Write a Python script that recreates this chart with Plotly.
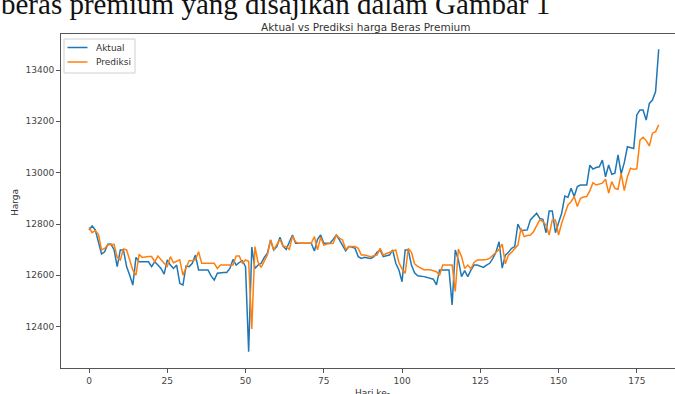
import plotly.graph_objects as go

# Daily premium rice price: actual vs model prediction
hari = list(range(183))

aktual = [
    12777, 12792, 12777, 12730, 12683, 12692, 12721, 12722, 12700, 12634,
    12699, 12699, 12634, 12600, 12562, 12670, 12653, 12653, 12653, 12653,
    12634, 12653, 12640, 12627, 12605, 12660, 12640, 12627, 12640, 12569,
    12562, 12636, 12634, 12647, 12679, 12621, 12621, 12621, 12621, 12598,
    12582, 12608, 12610, 12611, 12611, 12627, 12662, 12640, 12650, 12657,
    12634, 12302, 12710, 12627, 12640, 12647, 12670, 12686, 12738, 12699,
    12712, 12748, 12714, 12701, 12730, 12757, 12725, 12725, 12725, 12725,
    12725, 12725, 12695, 12740, 12757, 12725, 12725, 12725, 12740, 12757,
    12738, 12716, 12695, 12712, 12710, 12705, 12673, 12666, 12670, 12668,
    12666, 12673, 12690, 12699, 12673, 12676, 12679, 12699, 12647, 12621,
    12575, 12699, 12699, 12640, 12610, 12598, 12597, 12595, 12592, 12589,
    12585, 12563, 12621, 12621, 12621, 12621, 12485, 12699, 12660, 12595,
    12618, 12595, 12620, 12640, 12640, 12635, 12631, 12640, 12647, 12666,
    12690, 12731, 12628, 12679, 12690, 12705, 12712, 12800, 12774, 12776,
    12777, 12816, 12830, 12842, 12822, 12818, 12766, 12851, 12851, 12766,
    12805, 12842, 12909, 12904, 12939, 12907, 12946, 12952, 12952, 12952,
    13029, 13014, 13020, 13023, 13049, 12984, 13030, 12994, 12998, 13069,
    12995, 13039, 13101, 13096, 13094, 13225, 13244, 13244, 13205, 13270,
    13283, 13316, 13481,
]

prediksi = [
    12787, 12766, 12774, 12760, 12699, 12705, 12718, 12721, 12721, 12670,
    12660, 12703, 12699, 12660, 12620, 12601, 12682, 12670, 12672, 12673,
    12673, 12653, 12675, 12660, 12647, 12635, 12673, 12649, 12655, 12660,
    12601, 12630, 12657, 12658, 12660, 12692, 12647, 12647, 12647, 12647,
    12647, 12627, 12640, 12640, 12640, 12640, 12640, 12675, 12675, 12647,
    12660, 12655, 12391, 12712, 12650, 12631, 12653, 12680, 12738, 12699,
    12720, 12740, 12712, 12712, 12701, 12753, 12730, 12725, 12725, 12725,
    12725, 12725, 12751, 12699, 12748, 12718, 12722, 12725, 12725, 12757,
    12745, 12738, 12701, 12712, 12712, 12712, 12705, 12679, 12679, 12676,
    12673, 12676, 12679, 12705, 12679, 12685, 12690, 12696, 12699, 12650,
    12625, 12608, 12705, 12690, 12645, 12635, 12627, 12622, 12622, 12622,
    12618, 12614, 12600, 12640, 12640, 12640, 12640, 12537, 12702, 12673,
    12627, 12640, 12625, 12650, 12660, 12660, 12660, 12662, 12666, 12679,
    12690, 12700, 12722, 12645, 12679, 12690, 12705, 12718, 12783, 12751,
    12755, 12757, 12770, 12795, 12816, 12809, 12796, 12757, 12816, 12816,
    12757, 12803, 12840, 12874, 12887, 12907, 12868, 12900, 12905, 12907,
    12930, 12961, 12952, 12955, 12959, 12975, 12920, 12965, 12939, 12935,
    12997, 12930, 12984, 13017, 13013, 13015, 13127, 13138, 13125, 13104,
    13154, 13160, 13186,
]

y_ticks = [12400, 12600, 12800, 13000, 13200, 13400]
x_ticks = [0, 25, 50, 75, 100, 125, 150, 175]

BLUE = "#1f77b4"
ORANGE = "#ff7f0e"
AXIS = "#555555"
FONT = "DejaVu Sans"

W, H = 675, 394
ML, MR, MT, MB = 61, 0, 34, 26


def px_x(X):
    return (X - ML) / (W - ML - MR)


def px_y(Y):
    return (H - MB - Y) / (H - MT - MB)


fig = go.Figure()
fig.add_trace(go.Scatter(x=hari, y=aktual, mode="lines", name="Aktual",
                         line=dict(color=BLUE, width=1.5)))
fig.add_trace(go.Scatter(x=hari, y=prediksi, mode="lines", name="Prediksi",
                         line=dict(color=ORANGE, width=1.5)))

fig.update_layout(
    width=W, height=H,
    margin=dict(l=ML, r=MR, t=MT, b=MB, pad=0),
    paper_bgcolor="white", plot_bgcolor="white",
    showlegend=False,
    font=dict(family=FONT, size=9, color="#333333"),
)

fig.update_xaxes(
    range=[-8.95, 187.2], tickvals=x_ticks, ticktext=[str(t) for t in x_ticks],
    showgrid=False, zeroline=False,
    showline=True, linecolor=AXIS, linewidth=1, mirror=True,
    ticks="outside", ticklen=4, tickcolor=AXIS, tickwidth=1,
    tickfont=dict(family=FONT, size=9, color="#444444"),
)
fig.update_yaxes(
    range=[12239, 13540.3], tickvals=y_ticks, ticktext=[str(t) for t in y_ticks],
    showgrid=False, zeroline=False,
    showline=True, linecolor=AXIS, linewidth=1, mirror=False,
    ticks="outside", ticklen=4, tickcolor=AXIS, tickwidth=1,
    tickfont=dict(family=FONT, size=9, color="#444444"),
)

# Legend box with sample lines
shapes = [
    dict(type="rect", xref="paper", yref="paper",
         x0=px_x(64), x1=px_x(135), y0=px_y(73), y1=px_y(39),
         line=dict(color="#d0d0d0", width=1), fillcolor="rgba(255,255,255,0.8)"),
]
for color, ypx in [(BLUE, 47.5), (ORANGE, 62)]:
    shapes.append(dict(type="line", xref="paper", yref="paper",
                       x0=px_x(67.5), x1=px_x(87.5), y0=px_y(ypx), y1=px_y(ypx),
                       line=dict(color=color, width=1.5)))
fig.update_layout(shapes=shapes)

annotations = [
    dict(text="Aktual", x=px_x(94), y=px_y(47.5), xanchor="left", yanchor="middle"),
    dict(text="Prediksi", x=px_x(94), y=px_y(62), xanchor="left", yanchor="middle"),
    dict(text="Aktual vs Prediksi harga Beras Premium", x=px_x(365), y=px_y(26.5),
         xanchor="center", yanchor="middle", font=dict(size=10.5, color="#333333")),
    dict(text="Hari ke-", x=px_x(372), y=px_y(393), xanchor="center", yanchor="middle"),
    dict(text="Harga", x=px_x(15), y=px_y(203), xanchor="center", yanchor="middle",
         textangle=-90),
    dict(text="beras premium yang disajikan dalam Gambar 1", x=px_x(-1), y=px_y(4),
         xanchor="left", yanchor="middle",
         font=dict(family="Liberation Serif", size=29, color="#111111")),
]
for a in annotations:
    a.setdefault("xref", "paper")
    a.setdefault("yref", "paper")
    a.setdefault("showarrow", False)
    a.setdefault("font", dict(family=FONT, size=9, color="#333333"))
fig.update_layout(annotations=annotations)

fig.write_html("out.html")
